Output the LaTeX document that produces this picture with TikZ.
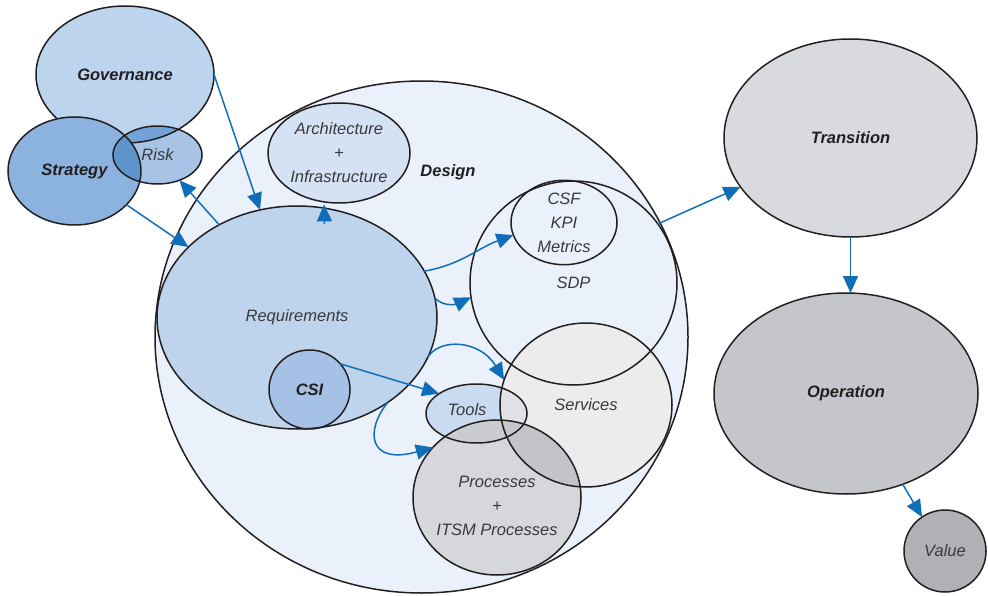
\documentclass[tikz,border=0pt]{standalone}
\usepackage{fontspec}
\setmainfont{Liberation Sans}
\usetikzlibrary{shapes.geometric,arrows.meta}

\definecolor{ink}{HTML}{231F20}
\definecolor{txt}{HTML}{3A3A3C}
\definecolor{flowblue}{RGB}{16,110,184}
\definecolor{designc}{HTML}{EAF1FA}
\definecolor{govc}{HTML}{BDD4EE}
\definecolor{stratc}{HTML}{8CB3DF}
\definecolor{riskc}{HTML}{A7C3E6}
\definecolor{govriskc}{HTML}{72A2D8}
\definecolor{stratriskc}{HTML}{5E95CC}
\definecolor{archc}{HTML}{D4E2F3}
\definecolor{reqc}{HTML}{BED4EC}
\definecolor{csic}{HTML}{A5C1E5}
\definecolor{toolsc}{HTML}{C8DBF0}
\definecolor{servc}{HTML}{ECECEE}
\definecolor{toolservc}{HTML}{E1E2E5}
\definecolor{procc}{HTML}{D6D7DB}
\definecolor{toolprocc}{HTML}{CBCCD0}
\definecolor{procservc}{HTML}{C3C4C9}
\definecolor{triplec}{HTML}{C6C7CB}
\definecolor{transc}{HTML}{D9DADF}
\definecolor{operc}{HTML}{C5C6CB}
\definecolor{valuec}{HTML}{B0B1B7}

% shape outlines (centre and radii), shared by fills and clips
\def\shDesign{(421.5,337) ellipse [x radius=266.5, y radius=256]}
\def\shGov{(125,74.5) ellipse [x radius=89, y radius=68.5]}
\def\shStrat{(74.5,171) ellipse [x radius=66.5, y radius=54]}
\def\shRisk{(157.5,155) ellipse [x radius=44.5, y radius=29]}
\def\shArch{(339,153) ellipse [x radius=71, y radius=50]}
\def\shReq{(297,317.5) ellipse [x radius=140, y radius=111.5]}
\def\shCsi{(309.5,389.5) ellipse [x radius=40.5, y radius=39.5]}
\def\shSdp{(573.5,283) ellipse [x radius=103.5, y radius=102]}
\def\shCsf{(564,222.5) ellipse [x radius=53, y radius=40.5]}
\def\shServ{(586,405) ellipse [x radius=86, y radius=82]}
\def\shTools{(476.5,413.5) ellipse [x radius=50.5, y radius=29.5]}
\def\shProc{(497,497.5) ellipse [x radius=84, y radius=77.5]}
\def\shTrans{(850.5,138) ellipse [x radius=126.5, y radius=99]}
\def\shOper{(846,393.5) ellipse [x radius=132, y radius=100.5]}
\def\shValue{(945,551) ellipse [x radius=41, y radius=41]}

\begin{document}
\begin{tikzpicture}[x=1pt,y=-1pt,
  ring/.style={ellipse, draw=ink, line width=1.5pt, inner sep=0pt, outer sep=0pt,
    text=txt, font=\fontsize{16.5}{24}\selectfont\itshape, align=center},
  heavy/.style={font=\fontsize{16.5}{24}\selectfont\bfseries\itshape, text=ink},
  plain/.style={font=\fontsize{16.5}{24}\selectfont\itshape, text=txt, align=center, inner sep=0pt},
  edge/.style={draw=ink, line width=1.5pt},
  flow/.style={draw=flowblue, line width=1.5pt, -{Triangle[length=17pt,width=15pt]}},
]
\useasboundingbox (0,0) rectangle (988,596);

% ---- Governance / Strategy / Risk cluster ----
\fill[govc] \shGov;
\node[ring, heavy, minimum width=178pt, minimum height=137pt] (gov) at (125,74.5) {Governance};
\fill[stratc] \shStrat;
\fill[riskc] \shRisk;
\begin{scope}
  \clip \shRisk;
  \fill[govriskc] \shGov;
  \draw[edge] \shGov;
  \fill[stratriskc] \shStrat;
\end{scope}
\node[ring, heavy, minimum width=133pt, minimum height=108pt] (strat) at (74.5,171) {Strategy};
\node[ring, minimum width=89pt, minimum height=58pt] (risk) at (157.5,155) {Risk};

% ---- Design area fills ----
\fill[designc] \shDesign;
\fill[archc] \shArch;
\fill[reqc] \shReq;
\fill[csic] \shCsi;
\fill[servc] \shServ;
\fill[toolsc] \shTools;
\fill[procc] \shProc;
\begin{scope}
  \clip \shTools;
  \fill[toolservc] \shServ;
  \fill[toolprocc] \shProc;
\end{scope}
\begin{scope}
  \clip \shProc;
  \fill[procservc] \shServ;
  \clip \shServ;
  \fill[triplec] \shTools;
\end{scope}

% ---- Design area outlines and labels ----
\node[ring, minimum width=533pt, minimum height=512pt] (design) at (421.5,337) {};
\node[heavy] (designlbl) at (448,172) {Design};
\node[ring, minimum width=142pt, minimum height=100pt] (arch) at (339,153) {Architecture\\+\\Infrastructure};
\node[ring, minimum width=280pt, minimum height=223pt] (req) at (297,317.5) {Requirements};
\node[ring, heavy, minimum width=81pt, minimum height=79pt] (csi) at (309.5,389.5) {CSI};
\node[ring, minimum width=207pt, minimum height=204pt] (sdp) at (573.5,283) {SDP};
\node[ring, minimum width=106pt, minimum height=81pt] (csf) at (564,222.5) {CSF\\KPI\\Metrics};
\node[ring, minimum width=172pt, minimum height=164pt] (serv) at (586,405) {Services};
\node[ring, minimum width=101pt, minimum height=59pt] (tools) at (476.5,413.5) {};
\node[plain] (toolslbl) at (467,410) {Tools};
\node[ring, minimum width=168pt, minimum height=155pt] (proc) at (497,497.5) {};
\node[plain] (proclbl) at (497,506) {Processes\\+\\ITSM Processes};

% ---- Lifecycle stages on the right ----
\fill[transc] \shTrans;
\node[ring, heavy, minimum width=253pt, minimum height=198pt] (trans) at (850.5,138) {Transition};
\fill[operc] \shOper;
\node[ring, heavy, minimum width=264pt, minimum height=201pt] (oper) at (846,393.5) {Operation};
\fill[valuec] \shValue;
\node[ring, minimum width=82pt, minimum height=82pt] (value) at (945,551) {Value};

% ---- Flows ----
\coordinate (reqtop) at (324.5,224);
\draw[flow] (gov.east) -- (req.109);
\draw[flow] (req.130) -- (risk.-49);
\draw[flow] (strat.-33) -- (req.147);
\draw[flow, shorten >=2.5pt] (reqtop) -- (arch.-107);
\draw[flow] (req.20) to[out=10, in=200] (csf.194);
\draw[flow] (req.8) to[out=-45, in=205] (sdp.188);
\draw[flow] (req.-17) .. controls +(12,-20) and +(-24,-40) .. (serv.163);
\draw[flow] (csi.40) -- (tools.152);
\draw[flow] (req.-43) .. controls +(-23,28) and +(-65,18) .. (proc.142);
\draw[flow] (sdp.35) -- (trans.204.7);
\draw[flow] (trans.south) -- (trans.south |- oper.north);
\draw[flow] (oper.-58) -- (value.124);
\end{tikzpicture}
\end{document}
